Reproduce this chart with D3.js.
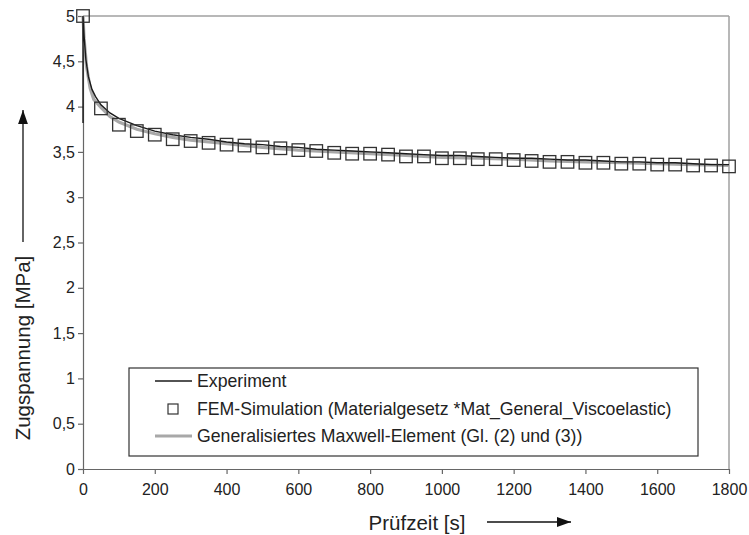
<!DOCTYPE html>
<html><head><meta charset="utf-8">
<script src="https://cdn.jsdelivr.net/npm/d3@7"></script>
<style>body{margin:0;background:#fff}svg{display:block;font-family:Arial,"Liberation Sans",sans-serif}</style>
</head><body><svg id="c" width="749" height="535"></svg>
<script>
// ---- data ----
const xTicks = [0,200,400,600,800,1000,1200,1400,1600,1800];
const yTicks = [0,0.5,1,1.5,2,2.5,3,3.5,4,4.5,5];
const yTickLabels = ["0","0,5","1","1,5","2","2,5","3","3,5","4","4,5","5"];

const expTime  = [0,0,3,8,15,25,35,50,75,100,150,200,250,300,350,400,450,500,550,600,650,700,750,800,850,900,950,1000,1050,1100,1150,1200,1250,1300,1350,1400,1450,1500,1550,1600,1650,1700,1750,1800];
const expValue = [3.82,5.0,4.78,4.52,4.33,4.19,4.11,4.02,3.93,3.87,3.79,3.73,3.69,3.66,3.64,3.61,3.59,3.58,3.56,3.55,3.53,3.52,3.51,3.50,3.49,3.48,3.47,3.46,3.46,3.45,3.44,3.43,3.43,3.42,3.41,3.41,3.40,3.39,3.39,3.38,3.38,3.37,3.36,3.36];

const femTime  = [0,50,100,150,200,250,300,350,400,450,500,550,600,650,700,750,800,850,900,950,1000,1050,1100,1150,1200,1250,1300,1350,1400,1450,1500,1550,1600,1650,1700,1750,1800];
const femValue = [5.00,3.98,3.80,3.73,3.69,3.64,3.62,3.60,3.58,3.57,3.55,3.54,3.52,3.51,3.49,3.48,3.48,3.47,3.45,3.45,3.43,3.43,3.42,3.42,3.41,3.40,3.39,3.39,3.38,3.38,3.37,3.37,3.36,3.36,3.35,3.35,3.34];

const maxTime  = [0,3,10,20,30,50,75,100,150,200,250,300,400,500,600,700,800,900,1000,1100,1200,1300,1400,1500,1600,1700,1800];
const maxValue = [5.0,4.75,4.44,4.20,4.08,3.99,3.89,3.83,3.75,3.70,3.66,3.63,3.59,3.55,3.52,3.50,3.48,3.46,3.44,3.43,3.42,3.40,3.39,3.38,3.37,3.36,3.35];

const legendLabels = ["Experiment","FEM-Simulation (Materialgesetz *Mat_General_Viscoelastic)","Generalisiertes Maxwell-Element (Gl. (2) und (3))"];

// ---- chart ----
const svg = d3.select("#c");
const L=83, R=729, T=16, B=469;
const x = d3.scaleLinear().domain([0,1800]).range([L,R]);
const y = d3.scaleLinear().domain([0,5]).range([B,T]);

// top / right frame
svg.append("line").attr("x1",L).attr("x2",R).attr("y1",T).attr("y2",T).attr("stroke","#a0a0a0").attr("stroke-width",1.5);
svg.append("line").attr("x1",R).attr("x2",R).attr("y1",T).attr("y2",B).attr("stroke","#a0a0a0").attr("stroke-width",1.5);

const xAxis = svg.append("g").attr("transform",`translate(0,${B})`)
  .call(d3.axisBottom(x).tickValues(xTicks).tickSize(5).tickSizeOuter(0).tickPadding(10).tickFormat(d3.format("d")));
const yAxis = svg.append("g").attr("transform",`translate(${L},0)`)
  .call(d3.axisLeft(y).tickValues(yTicks).tickSize(5).tickSizeOuter(0).tickPadding(3).tickFormat((d,i)=>yTickLabels[i]));
[xAxis,yAxis].forEach(a=>{
  a.selectAll("path,line").attr("stroke","#666").attr("stroke-width",1.2);
  a.selectAll("text").attr("font-size",16).attr("fill","#222").attr("font-family","Arial,'Liberation Sans',sans-serif");
});

const line = d3.line().x(d=>x(d[0])).y(d=>y(d[1]));
// Maxwell (grey, thick)
svg.append("path").datum(maxTime.map((t,i)=>[t,maxValue[i]]))
  .attr("d",line).attr("fill","none").attr("stroke","#a8a8a8").attr("stroke-width",3.2);
// Experiment (black, thin)
svg.append("path").datum(expTime.map((t,i)=>[t,expValue[i]]))
  .attr("d",line).attr("fill","none").attr("stroke","#1a1a1a").attr("stroke-width",1.4);
// FEM squares
const S=12.5;
svg.append("g").selectAll("rect").data(femTime.map((t,i)=>[t,femValue[i]])).join("rect")
  .attr("x",d=>x(d[0])-S/2).attr("y",d=>y(d[1])-S/2).attr("width",S).attr("height",S)
  .attr("fill","none").attr("stroke","#333").attr("stroke-width",1.3);

// legend
const lg = svg.append("g");
lg.append("rect").attr("x",129).attr("y",368).attr("width",569).attr("height",88)
  .attr("fill","#fff").attr("stroke","#333").attr("stroke-width",1.2);
const rows=[381,409,436];
lg.append("line").attr("x1",155).attr("x2",192).attr("y1",rows[0]).attr("y2",rows[0]).attr("stroke","#1a1a1a").attr("stroke-width",1.4);
lg.append("rect").attr("x",168).attr("y",rows[1]-5).attr("width",10).attr("height",10).attr("fill","none").attr("stroke","#333").attr("stroke-width",1.2);
lg.append("line").attr("x1",155).attr("x2",192).attr("y1",rows[2]).attr("y2",rows[2]).attr("stroke","#a8a8a8").attr("stroke-width",3);
legendLabels.forEach((s,i)=>{
  lg.append("text").attr("x",197).attr("y",rows[i]).attr("dy","0.36em").attr("font-size",17.7).attr("fill","#222").text(s);
});

// axis titles with arrows
svg.append("defs").append("marker").attr("id","ah").attr("viewBox","0 0 10 10").attr("refX",10).attr("refY",5)
  .attr("markerWidth",22).attr("markerHeight",14).attr("markerUnits","userSpaceOnUse").attr("orient","auto")
  .append("path").attr("d","M0,1.5 L10,5 L0,8.5 Z").attr("fill","#111");

svg.append("text").attr("x",417).attr("y",530).attr("text-anchor","middle").attr("font-size",20.5).attr("fill","#222").text("Prüfzeit [s]");
svg.append("line").attr("x1",487).attr("x2",571).attr("y1",522).attr("y2",522).attr("stroke","#111").attr("stroke-width",1.3).attr("marker-end","url(#ah)");

svg.append("text").attr("transform","translate(30,348) rotate(-90)").attr("text-anchor","middle").attr("font-size",20.5).attr("fill","#222").text("Zugspannung [MPa]");
svg.append("line").attr("x1",23).attr("x2",23).attr("y1",242).attr("y2",110).attr("stroke","#111").attr("stroke-width",1.3).attr("marker-end","url(#ah)");
</script></body></html>
